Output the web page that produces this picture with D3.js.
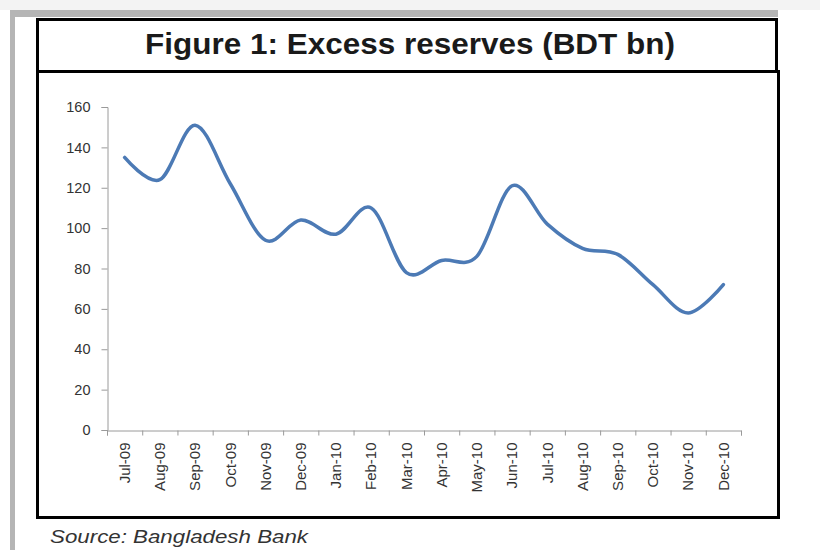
<!DOCTYPE html>
<html>
<head>
<meta charset="utf-8">
<script src="https://cdn.jsdelivr.net/npm/d3@7"></script>
<style>
  body { margin: 0; background: #fff; }
  svg { display: block; font-family: "Liberation Sans", Arial, sans-serif; }
</style>
</head>
<body>
<svg id="chart" width="820" height="550"></svg>
<script>
var months = ['Jul-09', 'Aug-09', 'Sep-09', 'Oct-09', 'Nov-09', 'Dec-09', 'Jan-10', 'Feb-10', 'Mar-10',
              'Apr-10', 'May-10', 'Jun-10', 'Jul-10', 'Aug-10', 'Sep-10', 'Oct-10', 'Nov-10', 'Dec-10'];
var reserves = [135, 124, 151, 122, 94, 104, 97, 110, 78, 84, 86, 121, 102, 90, 87, 72, 58, 72];
var yTicks = [0, 20, 40, 60, 80, 100, 120, 140, 160];

var svg = d3.select('#chart');

// page frame (grey strips of the scanned page)
svg.append('rect').attr('x', 0).attr('y', 0).attr('width', 820).attr('height', 10).attr('fill', '#f3f3f3');
svg.append('rect').attr('x', 10).attr('y', 10).attr('width', 768).attr('height', 7).attr('fill', '#b5b5b5');
svg.append('rect').attr('x', 10).attr('y', 10).attr('width', 5).attr('height', 540).attr('fill', '#b5b5b5');

// title box + chart box
svg.append('rect').attr('x', 37.5).attr('y', 19.5).attr('width', 739).attr('height', 52)
    .attr('fill', '#fff').attr('stroke', '#000').attr('stroke-width', 3);
svg.append('rect').attr('x', 37.5).attr('y', 71.5).attr('width', 741).attr('height', 446)
    .attr('fill', '#fff').attr('stroke', '#000').attr('stroke-width', 3);

svg.append('text')
    .attr('x', 410).attr('y', 54)
    .attr('text-anchor', 'middle')
    .attr('font-size', 29).attr('font-weight', 'bold').attr('fill', '#1a1a1a')
    .attr('textLength', 530).attr('lengthAdjust', 'spacingAndGlyphs')
    .text('Figure 1: Excess reserves (BDT bn)');

var x = d3.scaleBand().domain(months).range([107, 741]);
var xEdges = d3.scaleLinear().domain([0, months.length]).range([107, 741]);
var y = d3.scaleLinear().domain([0, 160]).range([430, 107]);

// y axis
var yAxis = svg.append('g')
    .attr('transform', 'translate(107.5,0)')
    .call(d3.axisLeft(y).tickValues(yTicks).tickSize(6).tickPadding(11));
yAxis.selectAll('text').attr('font-size', 14.5).attr('fill', '#333').attr('font-family', '"Liberation Sans", Arial, sans-serif');

// x axis: ticks between months
var xAxis = svg.append('g')
    .attr('transform', 'translate(0,430.5)')
    .call(d3.axisBottom(xEdges).ticks(months.length).tickFormat('').tickSize(5));

// month labels, rotated
var xLab = svg.append('g')
    .attr('transform', 'translate(0,430.5)')
    .call(d3.axisBottom(x).tickSize(0).tickPadding(0));
xLab.select('.domain').remove();
xLab.selectAll('text')
    .attr('font-size', 15).attr('fill', '#333').attr('font-family', '"Liberation Sans", Arial, sans-serif')
    .attr('text-anchor', 'end')
    .attr('dy', '0.35em')
    .attr('transform', 'translate(0,12) rotate(-90)')
    .attr('x', 0).attr('y', 0);

svg.selectAll('.domain, .tick line').attr('stroke', '#9a9a9a');

// the line
var line = d3.line()
    .x(function(d, i) { return x(months[i]) + x.bandwidth() / 2; })
    .y(function(d) { return y(d); })
    .curve(d3.curveCardinal.tension(0));

svg.append('path')
    .datum(reserves)
    .attr('fill', 'none')
    .attr('stroke', '#4c7ab5')
    .attr('stroke-width', 3.5)
    .attr('stroke-linecap', 'round')
    .attr('d', line);

// source
svg.append('text')
    .attr('x', 50).attr('y', 543)
    .attr('font-size', 18).attr('font-style', 'italic').attr('fill', '#333')
    .attr('textLength', 258).attr('lengthAdjust', 'spacingAndGlyphs')
    .text('Source: Bangladesh Bank');
</script>
</body>
</html>
